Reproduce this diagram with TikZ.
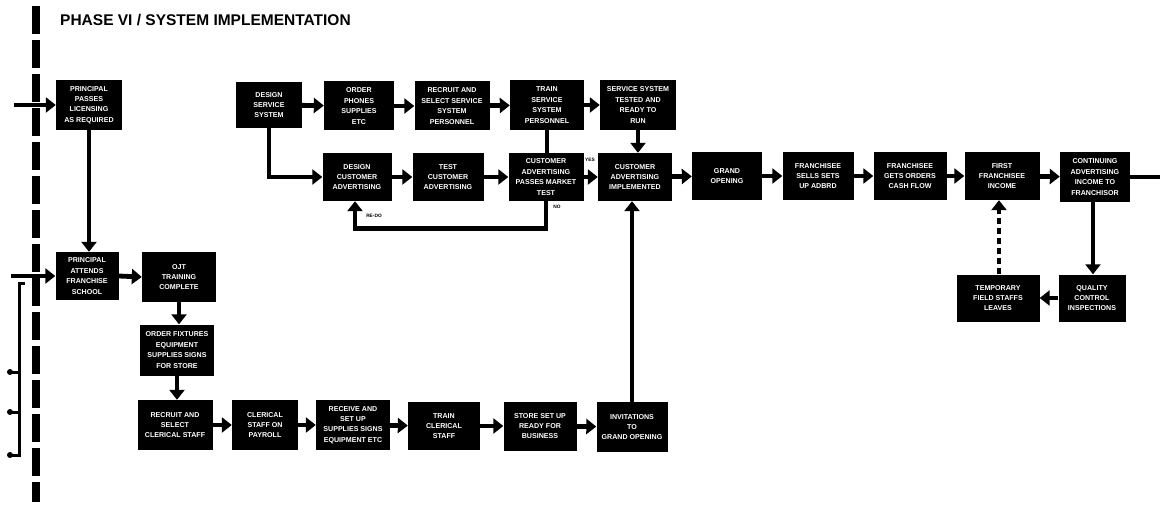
\documentclass[tikz,border=0pt]{standalone}
\usepackage{fontspec}
\setmainfont{Liberation Sans}
\usetikzlibrary{arrows.meta}
\tikzset{
  stage/.style={fill=black, text=white, align=center, inner sep=1pt,
    font=\fontsize{7.1}{10.4}\selectfont\bfseries,
    minimum width=#1, minimum height=48},
  stage/.default=72,
  flow/.style={line width=4.8, -{Triangle[width=15,length=10]}},
  link/.style={line width=4.8},
  bus/.style={line width=3},
  note/.style={font=\fontsize{4.8}{5}\selectfont\bfseries, inner sep=0.5pt},
}
\begin{document}
\begin{tikzpicture}[x=1pt,y=-1pt]
\useasboundingbox (0,0) rectangle (1160,508);
\fill[white] (0,0) rectangle (1160,508);

% phase boundary
\draw[line width=7.5, dash pattern=on 28 off 6] (36,6) -- (36,502);
\node[anchor=west, font=\fontsize{15.5}{17}\selectfont\bfseries, inner sep=0] (title) at (60,20) {PHASE VI / SYSTEM IMPLEMENTATION};

% left column
\node[stage=66, minimum height=50] (b1) at (89,105) {PRINCIPAL\\PASSES\\LICENSING\\AS REQUIRED};
\node[stage=63] (b2) at (87,276) {PRINCIPAL\\ATTENDS\\FRANCHISE\\SCHOOL};
\node[stage=74, minimum height=50] (b3) at (179,277) {OJT\\TRAINING\\COMPLETE};
\node[stage=74, minimum height=51] (b4) at (177,350) {ORDER FIXTURES\\EQUIPMENT\\SUPPLIES SIGNS\\FOR STORE};

% store row
\node[stage=75, minimum height=50] (b5) at (175,425) {RECRUIT AND\\SELECT\\CLERICAL STAFF};
\node[stage=66, minimum height=50] (b6) at (265,425) {CLERICAL\\STAFF ON\\PAYROLL};
\node[stage=74, minimum height=50] (b7) at (353,425) {RECEIVE AND\\SET UP\\SUPPLIES SIGNS\\EQUIPMENT ETC};
\node[stage=72] (b8) at (444,426) {TRAIN\\CLERICAL\\STAFF};
\node[stage=73, minimum height=49] (b9) at (540,426) {STORE SET UP\\READY FOR\\BUSINESS};
\node[stage=71, minimum height=50] (b10) at (632,427) {INVITATIONS\\TO\\GRAND OPENING};

% service system row
\node[stage=66, minimum height=46] (t1) at (269,105) {DESIGN\\SERVICE\\SYSTEM};
\node[stage=70, minimum height=49] (t2) at (359,106) {ORDER\\PHONES\\SUPPLIES\\ETC};
\node[stage=75, minimum height=49] (t3) at (452,106) {RECRUIT AND\\SELECT SERVICE\\SYSTEM\\PERSONNEL};
\node[stage=74, minimum height=50] (t4) at (547,105) {TRAIN\\SERVICE\\SYSTEM\\PERSONNEL};
\node[stage=76, minimum height=50] (t5) at (638,105) {SERVICE SYSTEM\\TESTED AND\\READY TO\\RUN};

% advertising and income row
\node[stage=69] (m1) at (357,177) {DESIGN\\CUSTOMER\\ADVERTISING};
\node[stage=71] (m2) at (448,177) {TEST\\CUSTOMER\\ADVERTISING};
\node[stage=75] (m3) at (546,177) {CUSTOMER\\ADVERTISING\\PASSES MARKET\\TEST};
\node[stage=74] (m4) at (635,177) {CUSTOMER\\ADVERTISING\\IMPLEMENTED};
\node[stage=70] (m5) at (727,176) {GRAND\\OPENING};
\node[stage=71] (m6) at (818,176) {FRANCHISEE\\SELLS SETS\\UP ADBRD};
\node[stage=73] (m7) at (910,176) {FRANCHISEE\\GETS ORDERS\\CASH FLOW};
\node[stage=75] (m8) at (1002,176) {FIRST\\FRANCHISEE\\INCOME};
\node[stage=70, minimum height=50] (m9) at (1095,177) {CONTINUING\\ADVERTISING\\INCOME TO\\FRANCHISOR};
\node[stage=83, minimum height=47] (l1) at (998,298) {TEMPORARY\\FIELD STAFFS\\LEAVES};
\node[stage=67, minimum height=47] (l2) at (1092,298) {QUALITY\\CONTROL\\INSPECTIONS};

% inputs from the previous phase
\coordinate (in1) at (14,105);
\coordinate (in2) at (11,276);
\draw[flow] (in1) -- (b1.west);
\draw[flow] (in2) -- (b2.west);
\coordinate (busTop) at (25,283);
\coordinate (busA) at (10,372);
\coordinate (busB) at (10,412);
\coordinate (busC) at (10,455);
\draw[bus] (busTop) -- (19,283) -- (19,455) -- (busC);
\draw[bus] (19,372) -- (busA);
\draw[bus] (19,412) -- (busB);
\foreach \p in {busA,busB,busC} \fill (\p) circle (3);

% left column flow
\draw[flow] (b1.south) -- (b1.south |- b2.north);
\draw[flow] (b2.east) -- (b3.west);
\draw[flow] (b3.south) -- (b3.south |- b4.north);
\draw[flow] (b4.south) -- (b4.south |- b5.north);
\draw[flow] (b5) -- (b6);
\draw[flow] (b6) -- (b7);
\draw[flow] (b7) -- (b8);
\draw[flow] (b8) -- (b9);
\draw[flow] (b9) -- (b10);
\draw[flow] (b10.north) -- (b10.north |- m4.south);

% service system flow
\draw[flow] (t1) -- (t2);
\draw[flow] (t2) -- (t3);
\draw[flow] (t3) -- (t4);
\draw[flow] (t4) -- (t5);
\draw[flow] (t1.south) |- (m1.west);
\draw[link] (t4.south) -- (t4.south |- m3.north);
\draw[flow] (t5.south) -- (t5.south |- m4.north);

% advertising flow
\draw[flow] (m1) -- (m2);
\draw[flow] (m2) -- (m3);
\draw[flow] (m3) -- (m4) node[note, pos=0.45, above=13pt] (yes) {YES};
\draw[flow] (m4) -- (m5);
\draw[flow] (m5) -- (m6);
\draw[flow] (m6) -- (m7);
\draw[flow] (m7) -- (m8);
\draw[flow] (m8) -- (m9);
\coordinate (out) at (1160,177);
\draw[link] (m9.east) -- (out);
\draw[flow] (m3.south) -- ++(0,27) -| ([xshift=-2]m1.south);
\node[note] (no) at (557,207) {NO};
\node[note] (redo) at (374,216) {RE-DO};

% after first income
\draw[flow] ([xshift=-2]m9.south) -- ([xshift=-2]m9.south |- l2.north);
\draw[flow] (l2.west) -- (l1.east);
\draw[line width=4.8, dash pattern=on 6 off 4, -{Triangle[width=15,length=10]}] ([xshift=1]l1.north) -- ([xshift=1]l1.north |- m8.south);
\end{tikzpicture}
\end{document}
